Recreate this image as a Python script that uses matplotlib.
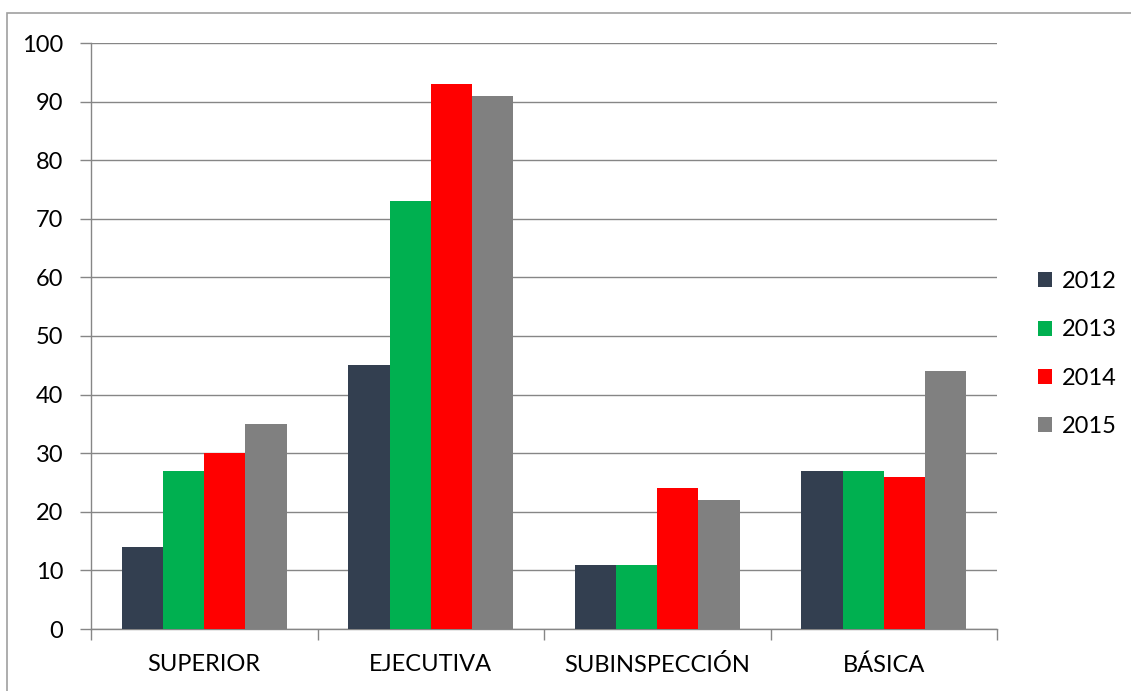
import numpy as np
import matplotlib.pyplot as plt
from matplotlib.patches import Rectangle

# data
categories = ["SUPERIOR", "EJECUTIVA", "SUBINSPECCIÓN", "BÁSICA"]
years = ["2012", "2013", "2014", "2015"]
v2012 = [14, 45, 11, 27]
v2013 = [27, 73, 11, 27]
v2014 = [30, 93, 24, 26]
v2015 = [35, 91, 22, 44]
series = [v2012, v2013, v2014, v2015]
colors = ["#333F50", "#00B050", "#FF0000", "#808080"]

plt.rcParams['font.family'] = ['Lato', 'DejaVu Sans']

fig = plt.figure(figsize=(11.31, 6.91), dpi=100)
ax = fig.add_axes([91/1131, 1 - 629/691, (997 - 91)/1131, (629 - 43)/691])

# chart border (Excel style)
fig.patches.append(Rectangle((7/1131, -0.05), 1.1, 1 - 13/691 + 0.05,
                             transform=fig.transFigure, fill=False,
                             edgecolor="#A0A0A0", lw=1.2))

n = len(years)
bw = 1.0 / (n + 1.5)
x = np.arange(len(categories))
for i, (vals, c) in enumerate(zip(series, colors)):
    off = (i - (n - 1) / 2) * bw
    ax.bar(x + off, vals, width=bw, color=c, label=years[i], zorder=3)

ax.set_xlim(-0.5, len(categories) - 0.5)
ax.set_ylim(0, 100)
ax.set_yticks(np.arange(0, 101, 10))
ax.set_xticks(x)
ax.set_xticklabels(categories)
ax.set_xticks(np.arange(-0.5, len(categories), 1), minor=True)
ax.tick_params(axis='x', which='major', length=0, labelsize=17, pad=18)
ax.tick_params(axis='x', which='minor', length=8, color="#868686", width=1)
ax.tick_params(axis='y', length=8, color="#868686", width=1, labelsize=17, pad=12)

ax.grid(axis='y', color="#868686", lw=1, zorder=0)
for s in ["top", "right"]:
    ax.spines[s].set_visible(False)
for s in ["left", "bottom"]:
    ax.spines[s].set_color("#868686")
    ax.spines[s].set_linewidth(1)

leg = fig.legend(loc="center left", bbox_to_anchor=(1017/1131, 1 - 354/691),
                 frameon=False, fontsize=17, handlelength=0.6, handleheight=0.6,
                 labelspacing=1.15, handletextpad=0.4)

fig.savefig("out.png", dpi=100)
